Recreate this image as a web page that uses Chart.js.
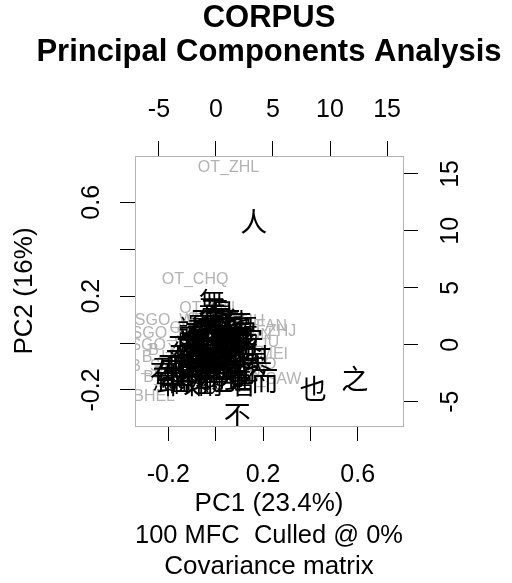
<!DOCTYPE html>
<html>
<head>
<meta charset="utf-8">
<script src="https://cdn.jsdelivr.net/npm/chart.js@4"></script>
<style>
    html, body { margin: 0; padding: 0; background: #fff; }
    canvas { display: block; }
</style>
</head>
<body>
<canvas id="pcaChart" width="512" height="583"></canvas>
<script>
// PCA biplot: samples (grey names) on PC scores, features (black words) on loadings

const titleLines = ['CORPUS', 'Principal Components Analysis'];
const xTitleLines = ['PC1 (23.4%)', '100 MFC  Culled @ 0%', 'Covariance matrix'];
const yTitle = 'PC2 (16%)';

// score axes (bottom / left)
const pcTicks = [-0.2, 0, 0.2, 0.4, 0.6];
const pcTickLabels = [-0.2, 0.2, 0.6];
// loading axes (top / right)
const loadingTicks = [-5, 0, 5, 10, 15];

// samples: names and scores
const sampleNames = [
    'OT_ZHL', 'OT_CHQ', 'OT_LIN', 'SGO_WEI', 'OT_ZHJ', 'OT_SHH', 'OT_SAW', 'OT_GUW',
    'B_JIN', 'BHEL', 'SGO_SHU', 'SGO_WU', 'B_HAN', 'B_SONG', 'OT_WEN', 'OT_YAN',
    'OT_XUN', 'OT_LIU', 'OT_MEI', 'OT_ZUO', 'OT_GAO', 'OT_QIN', 'OT_HUA', 'B_TANG',
    'B_YUAN', 'OT_FAN', 'OT_DAI'
];
const samplePC1 = [
    0.054, -0.087, -0.036, -0.184, 0.213, 0.069, 0.221, 0.040,
    -0.214, -0.260, -0.190, -0.210, -0.200, -0.220, -0.050, 0.020,
    0.100, 0.150, 0.180, 0.120, 0.070, -0.030, -0.080, -0.130,
    -0.150, 0.170, 0.000
];
const samplePC2 = [
    0.748, 0.269, 0.149, 0.094, 0.047, 0.090, -0.157, -0.149,
    -0.149, -0.230, 0.040, -0.010, -0.060, -0.100, 0.060, 0.020,
    0.030, 0.000, -0.050, -0.090, -0.120, -0.050, -0.100, -0.130,
    -0.030, 0.070, 0.100
];

// features: words and loadings
const featureWords = [
    '之', '也', '人', '不', '而', '者', '其', '故', '焉',
    '無', '曰', '莫', '矣', '一', '以', '為', '所', '乎',
    '於', '有', '此', '則', '王', '子', '與', '若', '是',
    '吾', '可', '何', '天', '下', '大', '乃', '夫', '知',
    '見', '將', '得', '言', '亦', '君', '然', '民', '使',
    '道', '我', '非', '自', '今', '能', '如', '必', '未',
    '心', '中', '上', '又', '公', '己', '生', '死',
    '日', '相', '至', '事', '時', '臣', '國', '皆', '當',
    '善', '德', '明', '後', '出', '聞', '三', '信', '物',
    '命', '行', '身', '或', '云', '宜', '猶', '哉', '耶',
    '爾', '已', '惟', '安', '欲', '雖', '甚', '寡', '孰',
    '既', '蓋', '諸'
];
const featureX = [
    12.17, 8.52, 3.32, 1.86, 4.28, 2.36, 3.76, -2.55, -4.45,
    -0.35, 0.3, 0.9, -0.6, 1.65, -1.2, 0.5, 1.9, -2.3,
    -0.5, 1.1, 2.4, -1.6, -3.1, 0.2, -0.9, 1.6, -2.2,
    2.8, -0.3, 0.9, -1.5, 2.1, -2.8, -3.6, -1.1, 0.5,
    1.3, -2.0, -0.1, -3.2, -3.9, -4.6, 3.2, 2.6, 1.9,
    0.0, -0.4, 0.8, -1.0, 0.3, -1.3, 1.4, -0.6, 0.9,
    -1.9, 1.0, -0.1, -1.8, 2.2, -2.6, -0.9, 1.6,
    -0.8, 0.6, -1.6, 1.3, -0.3, 0.7, -1.1, 1.8, -2.4,
    0.1, -0.8, 1.0, -1.7, -3.0, 2.3, -3.4, 0.0, -2.0,
    1.6, -0.3, 0.6, -1.0, 1.2, -2.6, 2.7, -3.8, -4.0,
    -0.5, 0.6, -1.4, 3.0, -2.7, 1.9, -0.2, -1.3, 0.4,
    2.5, -0.1, -2.2
];
const featureY = [
    -2.95, -3.83, 10.8, -6.17, -3.19, -3.45, -1.17, -3.36, -3.0,
    3.8, 2.4, 1.8, 1.5, 2.6, 1.0, 0.9, 1.2, 0.6,
    0.2, 0.3, 0.0, 0.1, -0.2, -0.6, -0.8, -0.5, -0.9,
    -0.4, -1.5, -1.3, -1.6, -1.7, -1.8, -2.3, -2.3, -2.1,
    -2.6, -2.6, -2.9, -3.2, -1.6, -2.2, -2.1, 1.0, 1.9,
    -0.1, 0.8, -0.1, -0.2, 1.3, -1.1, -1.0, -1.8, -1.8,
    -1.3, 0.8, -1.0, -0.4, 0.6, -0.3, 1.2, 0.1,
    0.4, 0.5, 0.9, -0.3, -0.6, -0.9, -1.4, -1.3, -1.7,
    -1.9, -2.6, -2.5, -2.9, -2.6, -2.4, -1.4, 0.5, 0.3,
    0.9, 2.0, 2.9, 2.3, 2.1, -2.2, -1.1, -2.8, -3.4,
    -3.4, -3.1, -3.4, 0.4, -0.8, -3.0, 1.2, 1.7, -1.3,
    1.5, 3.0, 1.3
];

const axisFont = { family: 'Liberation Sans, Arial, sans-serif', size: 25 };
const labelFont = { family: 'Liberation Sans, Arial, sans-serif', size: 26, lineHeight: 1.22 };

// draws each dataset's point names as text at the point position
const textLabels = {
    id: 'textLabels',
    afterDatasetsDraw(chart) {
        const ctx = chart.ctx;
        const area = chart.chartArea;
        ctx.save();
        ctx.beginPath();
        ctx.rect(area.left, area.top, area.right - area.left, area.bottom - area.top);
        ctx.clip();
        chart.data.datasets.forEach((ds, i) => {
            const meta = chart.getDatasetMeta(i);
            ctx.font = ds.textFont;
            ctx.fillStyle = ds.textColor;
            ctx.textAlign = 'center';
            ctx.textBaseline = 'middle';
            meta.data.forEach((pt, j) => ctx.fillText(ds.names[j], pt.x, pt.y));
        });
        ctx.restore();
    }
};

// two-line bold main title over the plot box
const mainTitle = {
    id: 'mainTitle',
    afterDraw(chart) {
        const ctx = chart.ctx;
        const cx = (chart.chartArea.left + chart.chartArea.right) / 2;
        ctx.save();
        ctx.font = 'bold 31px "Liberation Sans", Arial, sans-serif';
        ctx.fillStyle = '#000';
        ctx.textAlign = 'center';
        ctx.textBaseline = 'middle';
        ctx.fillText(titleLines[0], cx, 18);
        ctx.fillText(titleLines[1], cx, 52);
        ctx.restore();
    }
};

function setTicks(values) {
    return scale => { scale.ticks = values.map(v => ({ value: v })); };
}

const tickGrid = { drawOnChartArea: false, tickLength: 15, color: '#000', tickColor: '#000', lineWidth: 1 };
const boxBorder = { color: '#b4b4b4', width: 1 };

new Chart(document.getElementById('pcaChart'), {
    type: 'scatter',
    data: {
        datasets: [
            {
                names: sampleNames,
                textFont: '16px "Liberation Sans", Arial, sans-serif',
                textColor: '#b3b3b3',
                data: samplePC1.map((x, i) => ({ x: x, y: samplePC2[i] })),
                xAxisID: 'x',
                yAxisID: 'y',
                pointRadius: 0
            },
            {
                names: featureWords,
                textFont: '27px "Noto Sans CJK SC", sans-serif',
                textColor: '#000',
                data: featureX.map((x, i) => ({ x: x, y: featureY[i] })),
                xAxisID: 'x2',
                yAxisID: 'y2',
                pointRadius: 0
            }
        ]
    },
    options: {
        responsive: false,
        animation: false,
        events: [],
        layout: { padding: 0 },
        plugins: {
            legend: { display: false },
            tooltip: { enabled: false },
            title: { display: false }
        },
        scales: {
            x: {
                type: 'linear',
                position: 'bottom',
                min: -0.3407,
                max: 0.7913,
                afterBuildTicks: setTicks(pcTicks),
                afterFit: s => { s.height = 157; },
                ticks: {
                    autoSkip: false,
                    maxRotation: 0,
                    padding: 19,
                    color: '#000',
                    font: axisFont,
                    callback: v => pcTickLabels.includes(v) ? String(v) : ''
                },
                grid: tickGrid,
                border: boxBorder,
                title: {
                    display: true,
                    text: xTitleLines,
                    color: '#000',
                    font: labelFont,
                    padding: { top: 0, bottom: 0 }
                }
            },
            x2: {
                type: 'linear',
                position: 'top',
                min: -7.1,
                max: 16.4,
                afterBuildTicks: setTicks(loadingTicks),
                afterFit: s => { s.height = 156; },
                ticks: {
                    autoSkip: false,
                    maxRotation: 0,
                    padding: 16,
                    color: '#000',
                    font: axisFont
                },
                grid: tickGrid,
                border: boxBorder
            },
            y: {
                type: 'linear',
                position: 'left',
                min: -0.3535,
                max: 0.7974,
                afterBuildTicks: setTicks(pcTicks),
                afterFit: s => { s.width = 135; },
                ticks: {
                    autoSkip: false,
                    minRotation: 90,
                    maxRotation: 90,
                    crossAlign: 'center',
                    padding: 6.5,
                    color: '#000',
                    font: axisFont,
                    callback: v => pcTickLabels.includes(v) ? String(v) : ''
                },
                grid: tickGrid,
                border: boxBorder,
                title: {
                    display: true,
                    text: yTitle,
                    color: '#000',
                    font: labelFont,
                    padding: { top: 9, bottom: 0 }
                }
            },
            y2: {
                type: 'linear',
                position: 'right',
                min: -7.14,
                max: 16.57,
                afterBuildTicks: setTicks(loadingTicks),
                afterFit: s => { s.width = 109; },
                ticks: {
                    autoSkip: false,
                    minRotation: 90,
                    maxRotation: 90,
                    crossAlign: 'center',
                    padding: 19,
                    color: '#000',
                    font: axisFont
                },
                grid: tickGrid,
                border: boxBorder
            }
        }
    },
    plugins: [textLabels, mainTitle]
});
</script>
</body>
</html>
